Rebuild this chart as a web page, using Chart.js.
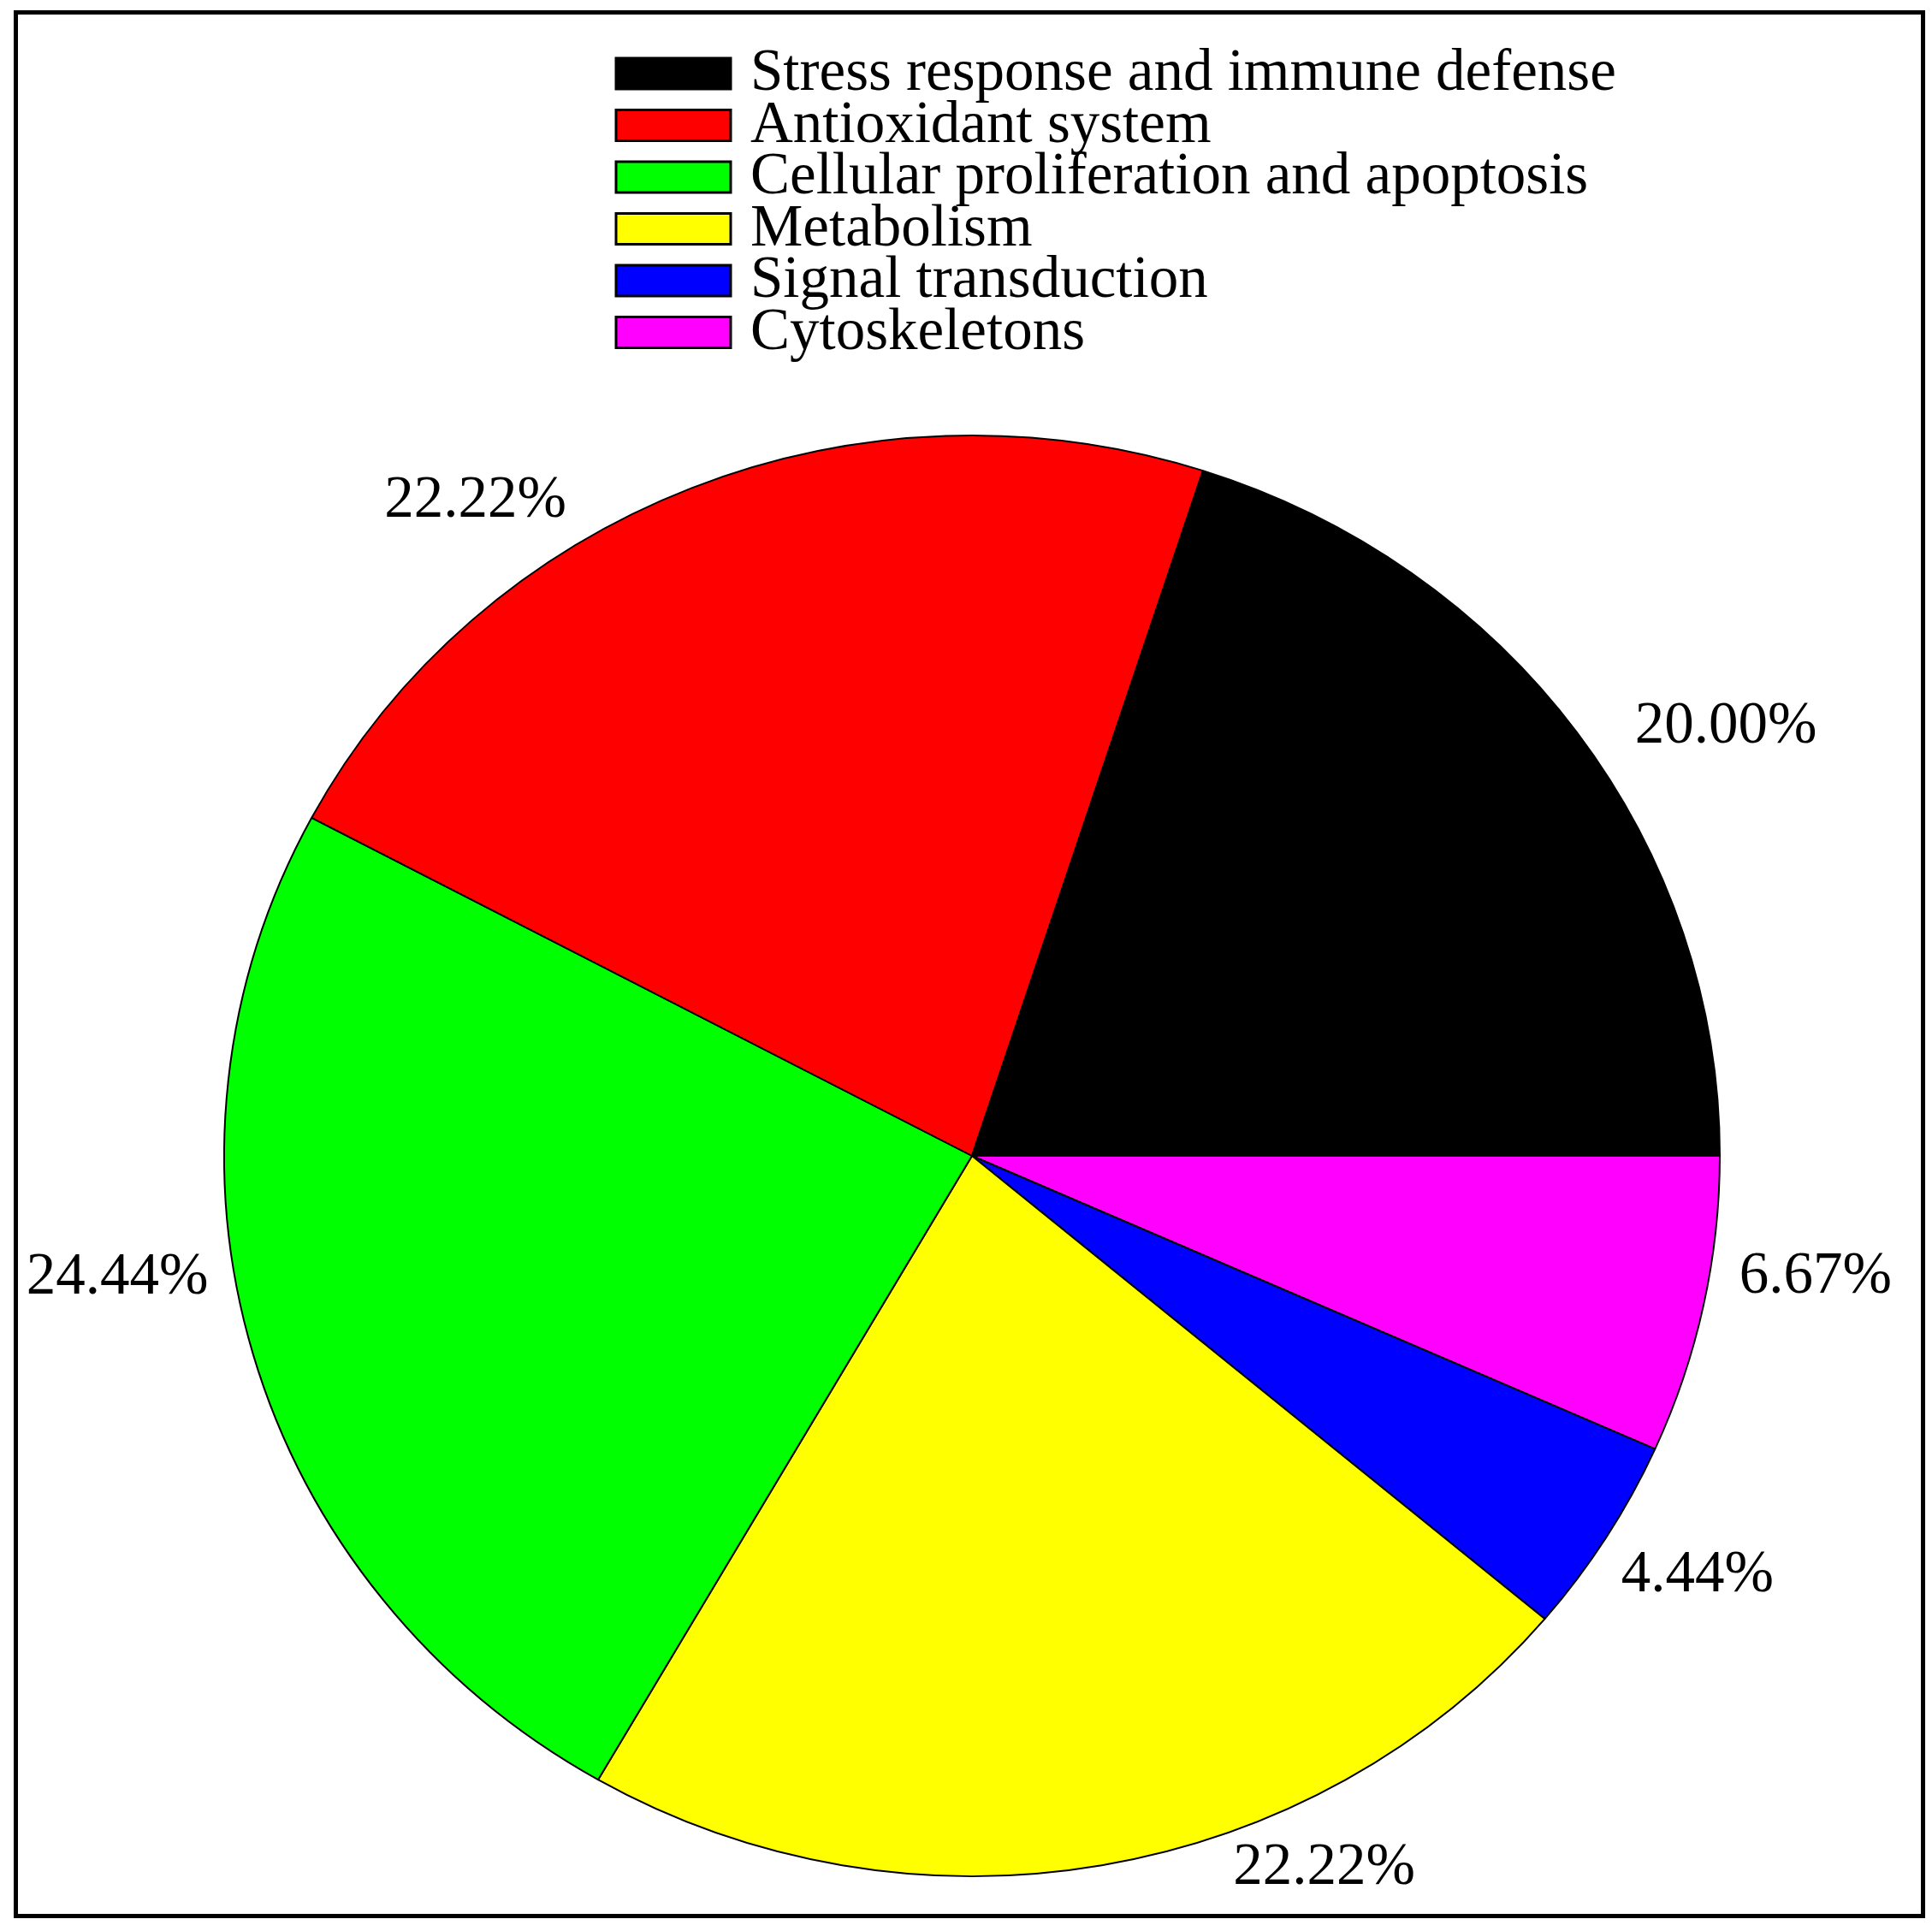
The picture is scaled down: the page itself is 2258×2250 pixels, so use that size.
<!DOCTYPE html>
<html>
<head>
<meta charset="utf-8">
<script src="https://cdn.jsdelivr.net/npm/chart.js@4/dist/chart.umd.min.js"></script>
<style>
  html, body { margin: 0; padding: 0; background: #ffffff; }
  canvas { display: block; }
</style>
</head>
<body>
<canvas id="c" width="2258" height="2250"></canvas>
<script>
// ---- data (legend order, counter-clockwise from 3 o'clock) ----
const categories = [
  "Stress response and immune defense",
  "Antioxidant system",
  "Cellular proliferation and apoptosis",
  "Metabolism",
  "Signal transduction",
  "Cytoskeletons"
];
const percentages = [20.00, 22.22, 24.44, 22.22, 4.44, 6.67];
const sliceColors = ["#000000", "#ff0000", "#00ff00", "#ffff00", "#0000ff", "#ff00ff"];

// label anchors, in units of the pie radius (x right, y down)
const labelAnchors = [
  [1.008, -0.601],
  [-0.664, -0.915],
  [-1.143, 0.164],
  [0.471, 0.983],
  [0.970, 0.577],
  [1.128, 0.163]
];

const FONT = '"Liberation Serif", "Times New Roman", serif';
const Y_SCALE = 842 / 874;   // the reference pie is slightly squashed vertically

// Chart.js draws clockwise; the reference runs counter-clockwise, so reverse.
const drawOrder = categories.map((_, i) => categories.length - 1 - i);

const squashPlugin = {
  id: 'squash',
  beforeDatasetsDraw(chart) {
    const arc = chart.getDatasetMeta(0).data[0];
    const ctx = chart.ctx;
    ctx.save();
    ctx.translate(arc.x, arc.y);
    ctx.scale(1, Y_SCALE);
    ctx.translate(-arc.x, -arc.y);
  },
  afterDatasetsDraw(chart) {
    chart.ctx.restore();
  }
};

const decorPlugin = {
  id: 'decor',
  afterDraw(chart) {
    const ctx = chart.ctx;
    const meta = chart.getDatasetMeta(0);
    const arc0 = meta.data[0];
    const cx = arc0.x, cy = arc0.y, R = arc0.outerRadius;

    // percentage labels
    ctx.save();
    ctx.fillStyle = '#000';
    ctx.font = '69px ' + FONT;
    ctx.textAlign = 'center';
    ctx.textBaseline = 'alphabetic';
    percentages.forEach((v, i) => {
      const [ux, uy] = labelAnchors[i];
      const x = cx + ux * R;
      const y = cy + uy * R * Y_SCALE;
      ctx.fillText(v.toFixed(2) + '%', x, y + 23);
    });
    ctx.restore();

    // legend
    ctx.save();
    const boxX = 720, boxW = 134, boxH = 36, firstY = 86, step = 60.5;
    ctx.font = '69px ' + FONT;
    ctx.textAlign = 'left';
    ctx.textBaseline = 'alphabetic';
    categories.forEach((name, i) => {
      const yc = firstY + i * step;
      ctx.fillStyle = sliceColors[i];
      ctx.fillRect(boxX, yc - boxH / 2, boxW, boxH);
      ctx.lineWidth = 3;
      ctx.strokeStyle = '#000';
      ctx.strokeRect(boxX, yc - boxH / 2, boxW, boxH);
      ctx.fillStyle = '#000';
      ctx.fillText(name, 877, yc + 19);
    });
    ctx.restore();

    // frame
    ctx.save();
    ctx.lineWidth = 5;
    ctx.strokeStyle = '#000';
    ctx.strokeRect(18.5, 14.5, 2229, 2225);
    ctx.restore();
  }
};

new Chart(document.getElementById('c'), {
  type: 'pie',
  data: {
    labels: drawOrder.map(i => categories[i]),
    datasets: [{
      data: drawOrder.map(i => percentages[i]),
      backgroundColor: drawOrder.map(i => sliceColors[i]),
      borderColor: '#000000',
      borderWidth: 2
    }]
  },
  options: {
    responsive: false,
    animation: false,
    events: [],
    rotation: 90,
    radius: 874,
    layout: { padding: { left: 20, right: 6, top: 452, bottom: 0 } },
    plugins: {
      legend: { display: false },
      tooltip: { enabled: false }
    }
  },
  plugins: [squashPlugin, decorPlugin]
});
</script>
</body>
</html>
